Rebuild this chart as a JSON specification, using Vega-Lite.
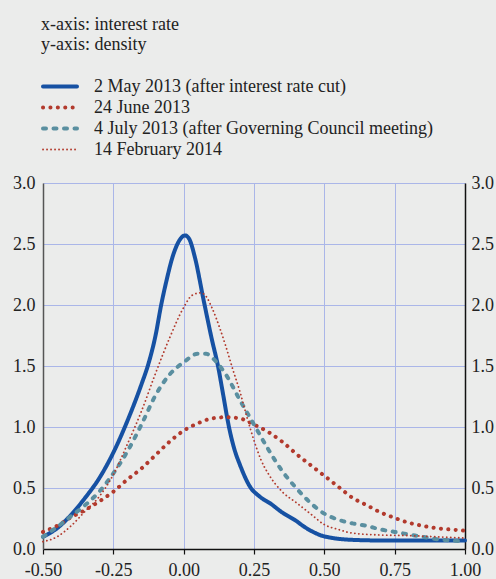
{
  "$schema": "https://vega.github.io/schema/vega-lite/v6.json",
  "autosize": "none",
  "width": 422,
  "height": 366,
  "padding": {"left": 43, "top": 183, "right": 31, "bottom": 30},
  "background": "#ebeceb",
  "config": {
    "view": {"stroke": null},
    "font": "Liberation Serif",
    "style": {"guide-label": {"font": "Liberation Serif"}, "guide-title": {"font": "Liberation Serif", "fontWeight": "normal"}},
    "axis": {"labelFont": "Liberation Serif", "labelFontSize": 18, "labelColor": "#222222"}
  },
  "resolve": {"axis": {"y": "independent"}},
  "layer": [
    {
      "mark": {"type": "rule", "color": "#ffffff", "strokeWidth": 2, "xOffset": -2},
      "encoding": {
        "x": {"datum": 0, "type": "quantitative", "scale": {"domain": [-0.5, 1], "nice": false, "zero": false}},
        "y": {"datum": 0, "type": "quantitative", "scale": {"domain": [0, 3], "nice": false},
          "axis": {"orient": "left", "title": null, "values": [0, 0.5, 1, 1.5, 2, 2.5, 3], "format": ".1f", "ticks": false, "labelPadding": 8, "domainColor": "#555555", "domainWidth": 1.5, "grid": true, "gridColor": "#aab6e8", "gridWidth": 1}},
        "y2": {"datum": 3}
      }
    },
    {
      "mark": {"type": "rule", "color": "#ffffff", "strokeWidth": 2, "xOffset": -2},
      "encoding": {
        "x": {"datum": -0.5, "type": "quantitative"},
        "y": {"datum": 0, "type": "quantitative", "axis": null},
        "y2": {"datum": 3}
      }
    },
    {
      "mark": {"type": "rule", "color": "#ffffff", "strokeWidth": 2, "yOffset": 2},
      "encoding": {
        "x": {"datum": -0.5, "type": "quantitative"},
        "x2": {"datum": 1},
        "y": {"datum": 0, "type": "quantitative", "axis": null}
      }
    },
    {
      "mark": {"type": "rule", "color": "#222222", "strokeWidth": 1.3},
      "encoding": {
        "x": {"datum": 0, "type": "quantitative"},
        "y": {"datum": 0, "type": "quantitative", "axis": null},
        "y2": {"datum": 3}
      }
    },
    {
      "data": {"values": [
        {"s": "2 May 2013 (after interest rate cut)", "x": -0.5, "y": 0.10},
        {"s": "2 May 2013 (after interest rate cut)", "x": -0.45, "y": 0.17},
        {"s": "2 May 2013 (after interest rate cut)", "x": -0.40, "y": 0.28},
        {"s": "2 May 2013 (after interest rate cut)", "x": -0.35, "y": 0.42},
        {"s": "2 May 2013 (after interest rate cut)", "x": -0.30, "y": 0.58},
        {"s": "2 May 2013 (after interest rate cut)", "x": -0.25, "y": 0.79},
        {"s": "2 May 2013 (after interest rate cut)", "x": -0.20, "y": 1.05},
        {"s": "2 May 2013 (after interest rate cut)", "x": -0.15, "y": 1.35},
        {"s": "2 May 2013 (after interest rate cut)", "x": -0.125, "y": 1.52},
        {"s": "2 May 2013 (after interest rate cut)", "x": -0.10, "y": 1.75},
        {"s": "2 May 2013 (after interest rate cut)", "x": -0.08, "y": 2.00},
        {"s": "2 May 2013 (after interest rate cut)", "x": -0.06, "y": 2.21},
        {"s": "2 May 2013 (after interest rate cut)", "x": -0.04, "y": 2.39},
        {"s": "2 May 2013 (after interest rate cut)", "x": -0.02, "y": 2.51},
        {"s": "2 May 2013 (after interest rate cut)", "x": 0.005, "y": 2.57},
        {"s": "2 May 2013 (after interest rate cut)", "x": 0.02, "y": 2.54},
        {"s": "2 May 2013 (after interest rate cut)", "x": 0.04, "y": 2.39},
        {"s": "2 May 2013 (after interest rate cut)", "x": 0.07, "y": 2.05},
        {"s": "2 May 2013 (after interest rate cut)", "x": 0.10, "y": 1.72},
        {"s": "2 May 2013 (after interest rate cut)", "x": 0.122, "y": 1.50},
        {"s": "2 May 2013 (after interest rate cut)", "x": 0.14, "y": 1.27},
        {"s": "2 May 2013 (after interest rate cut)", "x": 0.161, "y": 1.00},
        {"s": "2 May 2013 (after interest rate cut)", "x": 0.18, "y": 0.82},
        {"s": "2 May 2013 (after interest rate cut)", "x": 0.20, "y": 0.69},
        {"s": "2 May 2013 (after interest rate cut)", "x": 0.236, "y": 0.51},
        {"s": "2 May 2013 (after interest rate cut)", "x": 0.27, "y": 0.43},
        {"s": "2 May 2013 (after interest rate cut)", "x": 0.31, "y": 0.37},
        {"s": "2 May 2013 (after interest rate cut)", "x": 0.35, "y": 0.30},
        {"s": "2 May 2013 (after interest rate cut)", "x": 0.40, "y": 0.23},
        {"s": "2 May 2013 (after interest rate cut)", "x": 0.43, "y": 0.18},
        {"s": "2 May 2013 (after interest rate cut)", "x": 0.46, "y": 0.14},
        {"s": "2 May 2013 (after interest rate cut)", "x": 0.49, "y": 0.11},
        {"s": "2 May 2013 (after interest rate cut)", "x": 0.53, "y": 0.09},
        {"s": "2 May 2013 (after interest rate cut)", "x": 0.60, "y": 0.075},
        {"s": "2 May 2013 (after interest rate cut)", "x": 0.70, "y": 0.07},
        {"s": "2 May 2013 (after interest rate cut)", "x": 1.00, "y": 0.07},
        {"s": "24 June 2013", "x": -0.5, "y": 0.14},
        {"s": "24 June 2013", "x": -0.45, "y": 0.19},
        {"s": "24 June 2013", "x": -0.40, "y": 0.26},
        {"s": "24 June 2013", "x": -0.35, "y": 0.32},
        {"s": "24 June 2013", "x": -0.30, "y": 0.39},
        {"s": "24 June 2013", "x": -0.25, "y": 0.47},
        {"s": "24 June 2013", "x": -0.20, "y": 0.57},
        {"s": "24 June 2013", "x": -0.15, "y": 0.66},
        {"s": "24 June 2013", "x": -0.10, "y": 0.77},
        {"s": "24 June 2013", "x": -0.05, "y": 0.88},
        {"s": "24 June 2013", "x": 0.00, "y": 0.97},
        {"s": "24 June 2013", "x": 0.05, "y": 1.03},
        {"s": "24 June 2013", "x": 0.10, "y": 1.07},
        {"s": "24 June 2013", "x": 0.15, "y": 1.08},
        {"s": "24 June 2013", "x": 0.20, "y": 1.07},
        {"s": "24 June 2013", "x": 0.25, "y": 1.02},
        {"s": "24 June 2013", "x": 0.30, "y": 0.96},
        {"s": "24 June 2013", "x": 0.35, "y": 0.88},
        {"s": "24 June 2013", "x": 0.40, "y": 0.78},
        {"s": "24 June 2013", "x": 0.45, "y": 0.69},
        {"s": "24 June 2013", "x": 0.50, "y": 0.60},
        {"s": "24 June 2013", "x": 0.55, "y": 0.51},
        {"s": "24 June 2013", "x": 0.60, "y": 0.42},
        {"s": "24 June 2013", "x": 0.65, "y": 0.36},
        {"s": "24 June 2013", "x": 0.70, "y": 0.30},
        {"s": "24 June 2013", "x": 0.75, "y": 0.255},
        {"s": "24 June 2013", "x": 0.80, "y": 0.215},
        {"s": "24 June 2013", "x": 0.85, "y": 0.19},
        {"s": "24 June 2013", "x": 0.90, "y": 0.17},
        {"s": "24 June 2013", "x": 0.95, "y": 0.16},
        {"s": "24 June 2013", "x": 1.00, "y": 0.15},
        {"s": "4 July 2013 (after Governing Council meeting)", "x": -0.5, "y": 0.10},
        {"s": "4 July 2013 (after Governing Council meeting)", "x": -0.45, "y": 0.18},
        {"s": "4 July 2013 (after Governing Council meeting)", "x": -0.40, "y": 0.27},
        {"s": "4 July 2013 (after Governing Council meeting)", "x": -0.35, "y": 0.36},
        {"s": "4 July 2013 (after Governing Council meeting)", "x": -0.30, "y": 0.47},
        {"s": "4 July 2013 (after Governing Council meeting)", "x": -0.25, "y": 0.62},
        {"s": "4 July 2013 (after Governing Council meeting)", "x": -0.20, "y": 0.80},
        {"s": "4 July 2013 (after Governing Council meeting)", "x": -0.15, "y": 1.02},
        {"s": "4 July 2013 (after Governing Council meeting)", "x": -0.10, "y": 1.26},
        {"s": "4 July 2013 (after Governing Council meeting)", "x": -0.05, "y": 1.43},
        {"s": "4 July 2013 (after Governing Council meeting)", "x": 0.00, "y": 1.53},
        {"s": "4 July 2013 (after Governing Council meeting)", "x": 0.05, "y": 1.60},
        {"s": "4 July 2013 (after Governing Council meeting)", "x": 0.08, "y": 1.60},
        {"s": "4 July 2013 (after Governing Council meeting)", "x": 0.10, "y": 1.57},
        {"s": "4 July 2013 (after Governing Council meeting)", "x": 0.15, "y": 1.43},
        {"s": "4 July 2013 (after Governing Council meeting)", "x": 0.20, "y": 1.22},
        {"s": "4 July 2013 (after Governing Council meeting)", "x": 0.25, "y": 1.02},
        {"s": "4 July 2013 (after Governing Council meeting)", "x": 0.30, "y": 0.82},
        {"s": "4 July 2013 (after Governing Council meeting)", "x": 0.35, "y": 0.64},
        {"s": "4 July 2013 (after Governing Council meeting)", "x": 0.40, "y": 0.50},
        {"s": "4 July 2013 (after Governing Council meeting)", "x": 0.45, "y": 0.38},
        {"s": "4 July 2013 (after Governing Council meeting)", "x": 0.50, "y": 0.29},
        {"s": "4 July 2013 (after Governing Council meeting)", "x": 0.55, "y": 0.24},
        {"s": "4 July 2013 (after Governing Council meeting)", "x": 0.60, "y": 0.21},
        {"s": "4 July 2013 (after Governing Council meeting)", "x": 0.65, "y": 0.19},
        {"s": "4 July 2013 (after Governing Council meeting)", "x": 0.70, "y": 0.16},
        {"s": "4 July 2013 (after Governing Council meeting)", "x": 0.75, "y": 0.14},
        {"s": "4 July 2013 (after Governing Council meeting)", "x": 0.80, "y": 0.12},
        {"s": "4 July 2013 (after Governing Council meeting)", "x": 0.85, "y": 0.10},
        {"s": "4 July 2013 (after Governing Council meeting)", "x": 0.90, "y": 0.08},
        {"s": "4 July 2013 (after Governing Council meeting)", "x": 0.95, "y": 0.07},
        {"s": "4 July 2013 (after Governing Council meeting)", "x": 1.00, "y": 0.06},
        {"s": "14 February 2014", "x": -0.5, "y": 0.06},
        {"s": "14 February 2014", "x": -0.45, "y": 0.10},
        {"s": "14 February 2014", "x": -0.40, "y": 0.19},
        {"s": "14 February 2014", "x": -0.35, "y": 0.31},
        {"s": "14 February 2014", "x": -0.30, "y": 0.43},
        {"s": "14 February 2014", "x": -0.25, "y": 0.61},
        {"s": "14 February 2014", "x": -0.20, "y": 0.86},
        {"s": "14 February 2014", "x": -0.15, "y": 1.13},
        {"s": "14 February 2014", "x": -0.10, "y": 1.44},
        {"s": "14 February 2014", "x": -0.05, "y": 1.73},
        {"s": "14 February 2014", "x": 0.00, "y": 1.98},
        {"s": "14 February 2014", "x": 0.03, "y": 2.08},
        {"s": "14 February 2014", "x": 0.06, "y": 2.10},
        {"s": "14 February 2014", "x": 0.08, "y": 2.07},
        {"s": "14 February 2014", "x": 0.10, "y": 1.98},
        {"s": "14 February 2014", "x": 0.13, "y": 1.80},
        {"s": "14 February 2014", "x": 0.15, "y": 1.66},
        {"s": "14 February 2014", "x": 0.175, "y": 1.47},
        {"s": "14 February 2014", "x": 0.20, "y": 1.29},
        {"s": "14 February 2014", "x": 0.225, "y": 1.08},
        {"s": "14 February 2014", "x": 0.25, "y": 0.89},
        {"s": "14 February 2014", "x": 0.275, "y": 0.73},
        {"s": "14 February 2014", "x": 0.30, "y": 0.62},
        {"s": "14 February 2014", "x": 0.35, "y": 0.47},
        {"s": "14 February 2014", "x": 0.40, "y": 0.38},
        {"s": "14 February 2014", "x": 0.45, "y": 0.29},
        {"s": "14 February 2014", "x": 0.50, "y": 0.20},
        {"s": "14 February 2014", "x": 0.55, "y": 0.16},
        {"s": "14 February 2014", "x": 0.60, "y": 0.13},
        {"s": "14 February 2014", "x": 0.70, "y": 0.115},
        {"s": "14 February 2014", "x": 0.80, "y": 0.11},
        {"s": "14 February 2014", "x": 0.90, "y": 0.10},
        {"s": "14 February 2014", "x": 1.00, "y": 0.09}
      ]},
      "mark": {"type": "line", "interpolate": "monotone", "strokeCap": "round", "strokeJoin": "round"},
      "encoding": {
        "x": {"field": "x", "type": "quantitative",
          "axis": {"title": null, "values": [-0.5, -0.25, 0, 0.25, 0.5, 0.75, 1], "labelExpr": "datum.value < 0 ? '-' + format(-datum.value, '.2f') : format(datum.value, '.2f')", "domainColor": "#111111", "domainWidth": 1.5, "tickColor": "#111111", "tickSize": 5, "tickWidth": 1.2, "labelPadding": 7, "grid": true, "gridColor": "#aab6e8", "gridWidth": 1, "labelFlush": false}},
        "y": {"field": "y", "type": "quantitative",
          "axis": {"orient": "right", "title": null, "values": [0, 0.5, 1, 1.5, 2, 2.5, 3], "format": ".1f", "ticks": false, "labelPadding": 6, "domainColor": "#111111", "domainWidth": 1.5, "grid": false}},
        "color": {"field": "s", "type": "nominal", "title": ["x-axis: interest rate", "y-axis: density"],
          "scale": {"domain": ["2 May 2013 (after interest rate cut)", "24 June 2013", "4 July 2013 (after Governing Council meeting)", "14 February 2014"], "range": ["#1651a3", "#b23a2d", "#5a8fa0", "#b23a2d"]},
          "legend": {"orient": "none", "legendX": -2, "legendY": -167, "padding": 0, "titleFont": "Liberation Serif", "titleFontSize": 18, "titleFontWeight": "normal", "titleColor": "#222222", "titleLineHeight": 20, "titlePadding": 22, "titleLimit": 500, "titleBaseline": "top", "labelFont": "Liberation Serif", "labelFontSize": 18, "labelColor": "#222222", "labelLimit": 500, "labelOffset": 15, "symbolType": "stroke", "symbolSize": 1156, "clipHeight": 21, "rowPadding": 0, "encoding": {"symbols": {"strokeCap": {"value": "round"}}}}},
        "strokeDash": {"field": "s", "type": "nominal", "title": ["x-axis: interest rate", "y-axis: density"],
          "scale": {"domain": ["2 May 2013 (after interest rate cut)", "24 June 2013", "4 July 2013 (after Governing Council meeting)", "14 February 2014"], "range": [[1, 0], [0.1, 7.3], [3, 7.5], [0.1, 3.9]]},
          "legend": {"orient": "none", "legendX": -2, "legendY": -167, "padding": 0, "titleFont": "Liberation Serif", "titleFontSize": 18, "titleFontWeight": "normal", "titleColor": "#222222", "titleLineHeight": 20, "titlePadding": 22, "titleLimit": 500, "titleBaseline": "top", "labelFont": "Liberation Serif", "labelFontSize": 18, "labelColor": "#222222", "labelLimit": 500, "labelOffset": 15, "symbolType": "stroke", "symbolSize": 1156, "clipHeight": 21, "rowPadding": 0, "encoding": {"symbols": {"strokeCap": {"value": "round"}}}}},
        "strokeWidth": {"field": "s", "type": "nominal", "title": ["x-axis: interest rate", "y-axis: density"],
          "scale": {"type": "ordinal", "domain": ["2 May 2013 (after interest rate cut)", "24 June 2013", "4 July 2013 (after Governing Council meeting)", "14 February 2014"], "range": [4, 4, 4, 1.8]},
          "legend": {"orient": "none", "legendX": -2, "legendY": -167, "padding": 0, "titleFont": "Liberation Serif", "titleFontSize": 18, "titleFontWeight": "normal", "titleColor": "#222222", "titleLineHeight": 20, "titlePadding": 22, "titleLimit": 500, "titleBaseline": "top", "labelFont": "Liberation Serif", "labelFontSize": 18, "labelColor": "#222222", "labelLimit": 500, "labelOffset": 15, "symbolType": "stroke", "symbolSize": 1156, "clipHeight": 21, "rowPadding": 0, "encoding": {"symbols": {"strokeCap": {"value": "round"}}}}}
      }
    }
  ]
}
